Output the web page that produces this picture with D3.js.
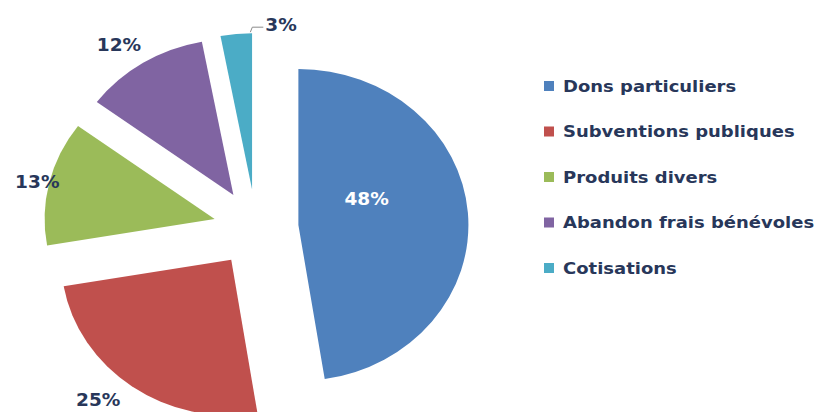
<!DOCTYPE html>
<html><head><meta charset="utf-8">
<script src="https://cdn.jsdelivr.net/npm/d3@7"></script>
<style>body{margin:0;background:#fff}svg{display:block}</style>
</head><body>
<svg id="chart" width="825" height="412"></svg>
<script>
const categories = ["Dons particuliers","Subventions publiques","Produits divers","Abandon frais bénévoles","Cotisations"];
const values = [48, 25, 13, 12, 3];
const valueLabels = ["48%","25%","13%","12%","3%"];
const colors = ["#4F81BD","#C0504D","#9BBB59","#8064A2","#4BACC6"];
// label placement relative to each slice apex: angle (deg, clockwise from top) and radius
const labelAngle = [67, 221, 283, 325, 10];
const labelRadius = [68, 186, 167, 183, 175];

const svg = d3.select("#chart");
const cx = 256, cy = 228, R = 156, sx = 1.09, explode = 39;
const textColor = "#28375A";
const fontFam = "DejaVu Sans, sans-serif";

const pie = d3.pie().value(d => d).sort(null);
const arcs = pie(values);
const arc = d3.arc().innerRadius(0).outerRadius(R);

const g = svg.append("g").attr("transform", `translate(${cx},${cy})`);

function apex(d) {
  const a = (d.startAngle + d.endAngle) / 2;
  return [Math.sin(a) * explode * sx, -Math.cos(a) * explode];
}

arcs.forEach((d, i) => {
  const [ox, oy] = apex(d);
  g.append("path")
    .attr("d", arc(d))
    .attr("fill", colors[i])
    .attr("transform", `translate(${ox},${oy}) scale(${sx},1)`);
});

function stretchedText(parent, x, y, txt, anchor, size, fill) {
  parent.append("text")
    .attr("transform", `translate(${x},${y}) scale(${sx},1)`)
    .attr("dominant-baseline", "central")
    .attr("text-anchor", anchor)
    .attr("font-family", fontFam).attr("font-weight", "bold")
    .attr("font-size", size).attr("fill", fill)
    .text(txt);
}

arcs.forEach((d, i) => {
  const [ox, oy] = apex(d);
  const a = labelAngle[i] * Math.PI / 180;
  const lx = ox + Math.sin(a) * labelRadius[i] * sx;
  const ly = oy - Math.cos(a) * labelRadius[i];
  if (i === 4) {
    const ea = d.endAngle - 0.01;
    const p0 = [ox + Math.sin(ea) * (R + 1) * sx, oy - Math.cos(ea) * (R + 1)];
    const p1 = [p0[0] + 2, p0[1] - 5];
    const p2 = [p1[0] + 11, p1[1]];
    g.append("polyline")
      .attr("points", [p0, p1, p2].map(p => p.join(",")).join(" "))
      .attr("fill", "none").attr("stroke", "#8a8a8a").attr("stroke-width", 1);
    stretchedText(g, p2[0] + 2, p2[1] - 2, valueLabels[i], "start", 17, textColor);
  } else {
    stretchedText(g, lx, ly, valueLabels[i], "middle", 17, i === 0 ? "#ffffff" : textColor);
  }
});

// legend
const legendY = d3.scalePoint().domain(categories).range([86, 268]);
const lg = svg.append("g");
categories.forEach((c, i) => {
  const y = legendY(c);
  lg.append("rect").attr("x", 544).attr("y", y - 5).attr("width", 10).attr("height", 10).attr("fill", colors[i]);
  stretchedText(lg, 563, y, c, "start", 16.5, textColor);
});
</script>
</body></html>
